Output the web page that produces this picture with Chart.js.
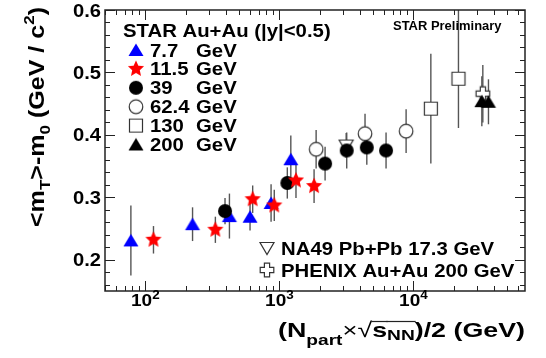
<!DOCTYPE html>
<html>
<head>
<meta charset="utf-8">
<script src="https://cdn.jsdelivr.net/npm/chart.js@4.4.0/dist/chart.umd.min.js"></script>
<style>
body { margin: 0; background: #fff; }
#wrap { width: 546px; height: 358px; }
</style>
</head>
<body>
<div id="wrap"><canvas id="chart" width="546" height="358"></canvas></div>
<script>
// STAR Au+Au 7.7 GeV
var x7 = [78, 225, 424, 604, 867, 1217];
var y7 = [0.231, 0.257, 0.270, 0.269, 0.291, 0.361];
var e7 = [0.056, 0.027, 0.036, 0.022, 0.030, 0.038];
// 11.5 GeV
var x11 = [115, 333, 632, 916, 1330, 1815];
var y11 = [0.232, 0.248, 0.297, 0.287, 0.327, 0.318];
var e11 = [0.022, 0.021, 0.022, 0.025, 0.028, 0.027];
// 39 GeV
var x39 = [393, 1146, 2193, 3180, 4490, 6250];
var y39 = [0.278, 0.323, 0.354, 0.375, 0.380, 0.375];
var e39 = [0.021, 0.025, 0.027, 0.029, 0.028, 0.029];
// 62.4 GeV
var x62 = [1880, 4355, 8820];
var y62 = [0.377, 0.402, 0.406];
var e62 = [0.031, 0.032, 0.035];
// 130 GeV (upper error of 2nd point runs off the top)
var x130 = [13490, 21680];
var y130 = [0.442, 0.490];
var e130lo = [0.088, 0.079];
var e130hi = [0.088, 0.12];
// 200 GeV
var x200 = [32400, 36300];
var y200 = [0.454, 0.453];
var e200 = [0.040, 0.036];
// NA49 Pb+Pb 17.3 GeV
var xNA49 = [3150];
var yNA49 = [0.383];
var eNA49 = [0.02];
// PHENIX Au+Au 200 GeV
var xPHX = [32950];
var yPHX = [0.466];
var ePHX = [0.046];

var legendEnergies = ['7.7', '11.5', '39', '62.4', '130', '200'];
var yTickValues = [0.2, 0.3, 0.4, 0.5, 0.6];
var yTickLabels = ['0.2', '0.3', '0.4', '0.5', '0.6'];
var xTickValues = [100, 1000, 10000];
var xTickExp = ['2', '3', '4'];

var FONT = '"Liberation Sans", Arial, sans-serif';

function makeMarker(kind, color) {
    var c = document.createElement('canvas');
    c.width = 22; c.height = 22;
    var g = c.getContext('2d');
    var m = 11;
    g.fillStyle = color;
    g.strokeStyle = '#333';
    g.lineWidth = 1.2;
    g.beginPath();
    if (kind == 'tri') {
        g.moveTo(m, m - 6.5); g.lineTo(m + 7.5, m + 6); g.lineTo(m - 7.5, m + 6);
        g.closePath(); g.fill();
    } else if (kind == 'star') {
        for (var k = 0; k < 10; k++) {
            var r = k % 2 ? 4 : 8.5;
            var a = -Math.PI / 2 + k * Math.PI / 5;
            g.lineTo(m + r * Math.cos(a), m + r * Math.sin(a));
        }
        g.closePath(); g.fill();
    } else if (kind == 'dot') {
        g.arc(m, m, 7, 0, Math.PI * 2); g.fill();
    } else if (kind == 'ring') {
        g.arc(m, m, 6.8, 0, Math.PI * 2); g.fill(); g.stroke();
    } else if (kind == 'box') {
        g.rect(m - 6.5, m - 6.5, 13, 13); g.fill(); g.stroke();
    } else if (kind == 'tridown') {
        g.moveTo(m - 7, m - 5.5); g.lineTo(m + 7, m - 5.5); g.lineTo(m, m + 6.5);
        g.closePath(); g.fill(); g.stroke();
    } else if (kind == 'cross') {
        var a1 = 2.6, L = 6.8;
        g.moveTo(m - a1, m - L); g.lineTo(m + a1, m - L); g.lineTo(m + a1, m - a1);
        g.lineTo(m + L, m - a1); g.lineTo(m + L, m + a1); g.lineTo(m + a1, m + a1);
        g.lineTo(m + a1, m + L); g.lineTo(m - a1, m + L); g.lineTo(m - a1, m + a1);
        g.lineTo(m - L, m + a1); g.lineTo(m - L, m - a1); g.lineTo(m - a1, m - a1);
        g.closePath(); g.fill(); g.stroke();
    }
    return c;
}

var mk7 = makeMarker('tri', '#0000ff');
var mk11 = makeMarker('star', '#ff0000');
var mk39 = makeMarker('dot', '#000000');
var mk62 = makeMarker('ring', '#ffffff');
var mk130 = makeMarker('box', '#ffffff');
var mk200 = makeMarker('tri', '#000000');
var mkNA49 = makeMarker('tridown', '#ffffff');
var mkPHX = makeMarker('cross', '#ffffff');

function pts(xs, ys) {
    return xs.map(function(x, i) { return { x: x, y: ys[i] }; });
}

function ds(xs, ys, lo, hi, marker, order) {
    return {
        data: pts(xs, ys),
        errDown: lo,
        errUp: hi,
        pointStyle: marker,
        pointRadius: 7,
        showLine: false,
        order: order
    };
}

// text helpers, bold and a bit wide like the original
function wideText(ctx, str, x, y, size, sx, align, weight) {
    ctx.save();
    ctx.font = (weight || 'bold') + ' ' + size + 'px ' + FONT;
    var w = ctx.measureText(str).width * sx;
    var x0 = align == 'right' ? x - w : (align == 'center' ? x - w / 2 : x);
    ctx.translate(x0, y);
    ctx.scale(sx, 1);
    ctx.textAlign = 'left';
    ctx.textBaseline = 'alphabetic';
    ctx.fillText(str, 0, 0);
    ctx.restore();
    return w;
}

function richWidth(ctx, segs) {
    var t = 0;
    segs.forEach(function(s) {
        ctx.font = (s.w || 'bold') + ' ' + s.size + 'px ' + FONT;
        s.width = ctx.measureText(s.t).width;
        t += s.width;
    });
    return t;
}

function drawRich(ctx, segs, sx) {
    var cx = 0;
    segs.forEach(function(s) {
        ctx.save();
        ctx.font = (s.w || 'bold') + ' ' + s.size + 'px ' + FONT;
        ctx.translate(cx, s.dy || 0);
        ctx.scale(sx, 1);
        ctx.fillText(s.t, 0, 0);
        ctx.restore();
        if (s.bar) {
            ctx.beginPath();
            ctx.moveTo(cx - 1, -15.5);
            ctx.lineTo(cx + s.width * sx + 1, -15.5);
            ctx.lineWidth = 1.2;
            ctx.stroke();
        }
        cx += s.width * sx;
    });
}

var rootStyle = {
    id: 'rootStyle',
    beforeDatasetsDraw: function(chart) {
        var ctx = chart.ctx, xs = chart.scales.x, ys = chart.scales.y, ca = chart.chartArea;
        ctx.save();
        ctx.beginPath();
        ctx.rect(ca.left, ca.top, ca.right - ca.left, ca.bottom - ca.top);
        ctx.clip();
        ctx.strokeStyle = '#555';
        ctx.lineWidth = 1.4;
        chart.data.datasets.forEach(function(d) {
            d.data.forEach(function(p, i) {
                var px = xs.getPixelForValue(p.x);
                ctx.beginPath();
                ctx.moveTo(px, ys.getPixelForValue(p.y + d.errUp[i]));
                ctx.lineTo(px, ys.getPixelForValue(p.y - d.errDown[i]));
                ctx.stroke();
            });
        });
        ctx.restore();
    },
    afterDatasetsDraw: function(chart) {
        var ctx = chart.ctx, xs = chart.scales.x, ys = chart.scales.y, ca = chart.chartArea;
        ctx.save();
        ctx.fillStyle = '#000';
        ctx.strokeStyle = '#222';

        // frame
        ctx.lineWidth = 1.5;
        ctx.strokeRect(ca.left, ca.top, ca.right - ca.left, ca.bottom - ca.top);

        // y ticks, inward on both sides
        ctx.lineWidth = 1;
        ctx.beginPath();
        for (var v = 0.16; v <= 0.6001; v += 0.02) {
            var py = Math.round(ys.getPixelForValue(v)) + 0.5;
            var major = Math.abs(v * 10 - Math.round(v * 10)) < 1e-6;
            var len = major ? 10 : 5;
            ctx.moveTo(ca.left, py); ctx.lineTo(ca.left + len, py);
            ctx.moveTo(ca.right, py); ctx.lineTo(ca.right - len, py);
        }
        // x ticks, inward top and bottom
        for (var e = 1; e <= 4; e++) {
            for (var s = 1; s <= 9; s++) {
                var xv = s * Math.pow(10, e);
                if (xv < 50 || xv > 68000) continue;
                var px = Math.round(xs.getPixelForValue(xv)) + 0.5;
                var len2 = s == 1 ? 10 : 5;
                ctx.moveTo(px, ca.bottom); ctx.lineTo(px, ca.bottom - len2);
                ctx.moveTo(px, ca.top); ctx.lineTo(px, ca.top + len2);
            }
        }
        ctx.stroke();

        // y tick labels
        yTickValues.forEach(function(v, i) {
            wideText(ctx, yTickLabels[i], ca.left - 4, ys.getPixelForValue(v) + 6.5, 18, 1.12, 'right');
        });
        // x tick labels 10^n
        xTickValues.forEach(function(v, i) {
            var px = xs.getPixelForValue(v);
            ctx.font = 'bold 17px ' + FONT;
            var w1 = ctx.measureText('10').width * 1.12;
            ctx.font = 'bold 12px ' + FONT;
            var w2 = ctx.measureText(xTickExp[i]).width * 1.12;
            var x0 = px - (w1 + w2) / 2;
            wideText(ctx, '10', x0, ca.bottom + 15, 17, 1.12, 'left');
            wideText(ctx, xTickExp[i], x0 + w1, ca.bottom + 8, 12, 1.12, 'left');
        });

        // x axis title
        var xt = [
            { t: '(N', size: 21 },
            { t: 'part', size: 15, dy: 8 },
            { t: '\u00d7', size: 20, w: 'normal' },
            { t: '\u221a', size: 21, w: 'normal' },
            { t: 's', size: 21, bar: true },
            { t: 'NN', size: 15, dy: 3, bar: true },
            { t: ')/2 (GeV)', size: 21 }
        ];
        var xw = richWidth(ctx, xt);
        var xsx = 247 / xw;
        ctx.save();
        ctx.translate(ca.right - 247, 337);
        drawRich(ctx, xt, xsx);
        ctx.restore();

        // y axis title, rotated
        var yt = [
            { t: '<m', size: 22 },
            { t: 'T', size: 15, dy: 6 },
            { t: '>-m', size: 22 },
            { t: '0', size: 15, dy: 6 },
            { t: ' (GeV / c', size: 22 },
            { t: '2', size: 15, dy: -10 },
            { t: ')', size: 22 }
        ];
        var yw = richWidth(ctx, yt);
        ctx.save();
        ctx.translate(44, 227);
        ctx.rotate(-Math.PI / 2);
        drawRich(ctx, yt, 220 / yw);
        ctx.restore();

        // STAR legend
        wideText(ctx, 'STAR Au+Au (|y|<0.5)', 123, 36.5, 18, 1.13, 'left');
        var marks = [mk7, mk11, mk39, mk62, mk130, mk200];
        legendEnergies.forEach(function(t, i) {
            var cy = 50 + i * 18.9;
            ctx.drawImage(marks[i], 136 - 11, cy - 11);
            wideText(ctx, t, 150, cy + 6.5, 18, 1.13, 'left');
            wideText(ctx, 'GeV', 196, cy + 6.5, 18, 1.13, 'left');
        });

        // other experiments
        ctx.drawImage(mkNA49, 267 - 11, 248 - 11);
        wideText(ctx, 'NA49 Pb+Pb 17.3 GeV', 281, 248 + 6.5, 18, 1.13, 'left');
        ctx.drawImage(mkPHX, 267 - 11, 270 - 11);
        wideText(ctx, 'PHENIX Au+Au 200 GeV', 281, 270 + 6.5, 18, 1.13, 'left');

        wideText(ctx, 'STAR Preliminary', 393, 29.5, 12, 1.08, 'left');
        ctx.restore();
    }
};

var chart = new Chart(document.getElementById('chart'), {
    type: 'scatter',
    data: {
        datasets: [
            ds(x7, y7, e7, e7, mk7, 4),
            ds(x11, y11, e11, e11, mk11, 2),
            ds(x39, y39, e39, e39, mk39, 3),
            ds(x62, y62, e62, e62, mk62, 5),
            ds(x130, y130, e130lo, e130hi, mk130, 6),
            ds(x200, y200, e200, e200, mk200, 1),
            ds(xNA49, yNA49, eNA49, eNA49, mkNA49, 8),
            ds(xPHX, yPHX, ePHX, ePHX, mkPHX, 7)
        ]
    },
    options: {
        responsive: false,
        animation: false,
        layout: { padding: { left: 105, right: 21, top: 10, bottom: 67 } },
        plugins: { legend: { display: false }, tooltip: { enabled: false } },
        scales: {
            x: { type: 'logarithmic', min: 50, max: 68000, display: false },
            y: { type: 'linear', min: 0.15, max: 0.6, display: false }
        }
    },
    plugins: [rootStyle]
});
</script>
</body>
</html>
